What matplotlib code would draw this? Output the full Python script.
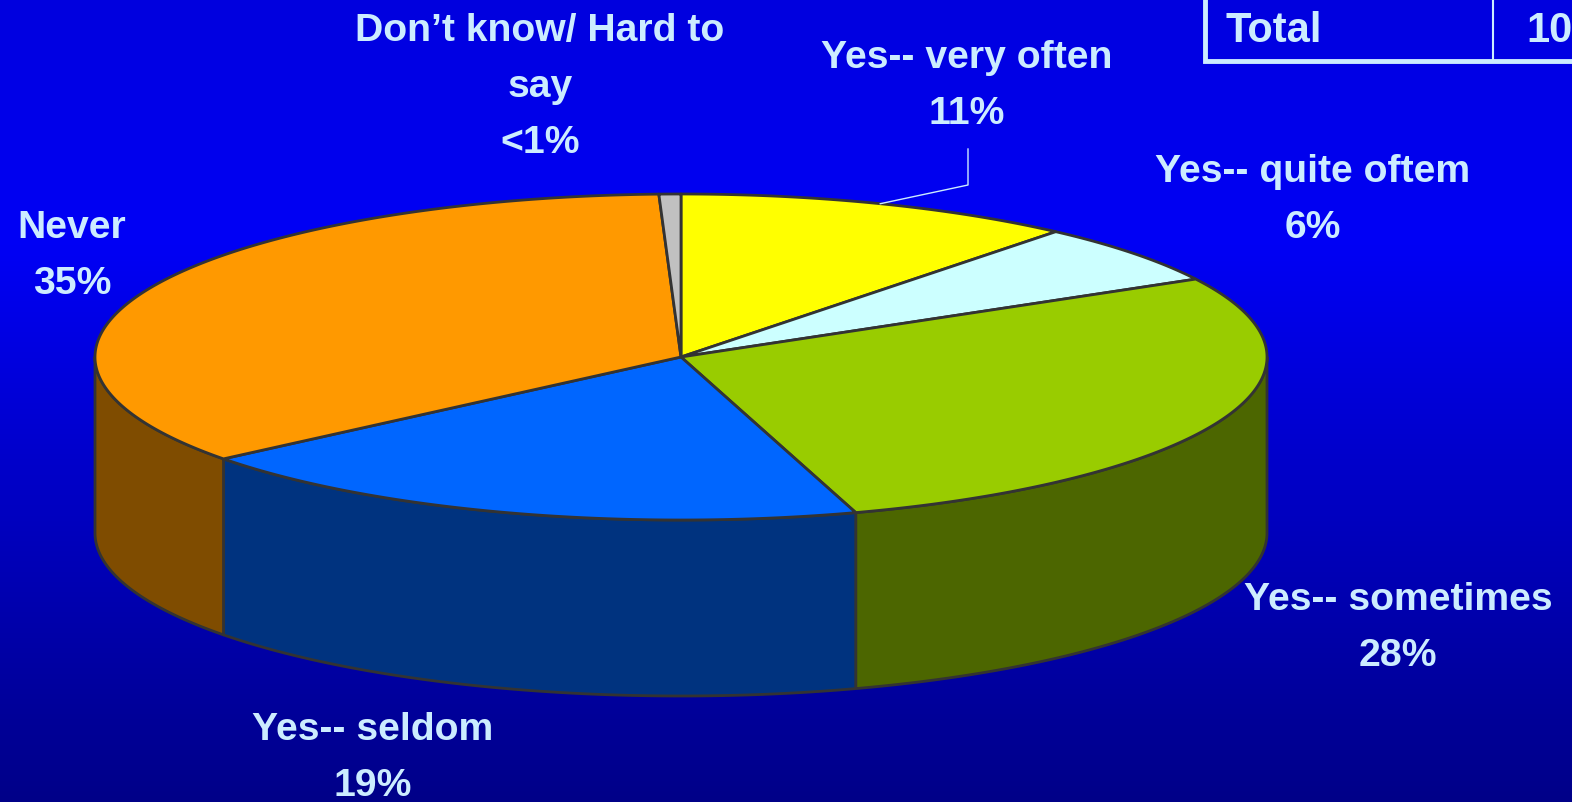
import numpy as np
import matplotlib
matplotlib.use("Agg")
import matplotlib.pyplot as plt
from matplotlib.patches import Polygon, Rectangle

# Survey answers, clockwise from 12 o'clock
categories = ["Yes-- very often", "Yes-- quite oftem", "Yes-- sometimes",
              "Yes-- seldom", "Never", "Don\u2019t know/ Hard to\nsay"]
shares = [11, 6, 28, 19, 35, 0.6]

top_colors = ["#FFFF00", "#CCFFFF", "#99CC00", "#0066FF", "#FF9900", "#C0C0C0"]
side_colors = ["#808000", "#668080", "#4C6600", "#00337F", "#7F4C00", "#606060"]

# Label anchor positions (pixel space) for each category
label_pos = [(967, 86), (1313, 200), (1398, 628), (373, 758), (72, 256), (540, 87)]

W, H = 1572, 803
fig = plt.figure(figsize=(W / 100, H / 100), dpi=100)
ax = fig.add_axes([0, 0, 1, 1])
ax.set_xlim(0, W)
ax.set_ylim(H, 0)
ax.axis("off")

# Vertical blue background gradient
ys = np.linspace(0, 1, 400)
blue = np.interp(ys, [0.0, 0.3, 1.0], [222, 246, 136]) / 255.0
grad = np.zeros((400, 1, 3))
grad[:, 0, 2] = blue
ax.imshow(grad, extent=(0, W, H, 0), aspect="auto", zorder=0, interpolation="bilinear")

# 3-D pie geometry
cx, cy, rx, ry, depth = 681, 358, 586, 163, 176
edge_kw = dict(edgecolor="#333333", linewidth=2.0, joinstyle="round")


def rim(theta_deg, dy=0.0):
    t = np.radians(theta_deg)
    return np.column_stack([cx + rx * np.sin(t), cy - ry * np.cos(t) + dy])


total = float(sum(shares))
bounds = np.concatenate([[0.0], np.cumsum(shares)]) / total * 360.0

# Visible side walls (front half of the cylinder)
for i in range(len(shares)):
    lo, hi = max(bounds[i], 90.0), min(bounds[i + 1], 270.0)
    if hi <= lo:
        continue
    t = np.linspace(lo, hi, 200)
    pts = np.vstack([rim(t), rim(t[::-1], depth)])
    ax.add_patch(Polygon(pts, closed=True, facecolor=side_colors[i], zorder=2, **edge_kw))

# Top faces
for i in range(len(shares)):
    t = np.linspace(bounds[i], bounds[i + 1], 200)
    pts = np.vstack([[cx, cy], rim(t)])
    ax.add_patch(Polygon(pts, closed=True, facecolor=top_colors[i], zorder=3, **edge_kw))

# Labels
txt_color = "#CCECFF"
font = dict(family="Liberation Sans", weight="bold", size=28.2, color=txt_color)
for cat, v, (lx, ly) in zip(categories, shares, label_pos):
    pct = f"{v:.0f}%" if v >= 1 else "<1%"
    ax.text(lx, ly, f"{cat}\n{pct}", ha="center", va="center",
            multialignment="center", linespacing=1.71, zorder=5, **font)

# Leader line for the first slice label
mid = (bounds[0] + bounds[1]) / 2
p = rim([mid])[0]
ax.plot([p[0], 968, 968], [p[1], 186, 150], color=txt_color, lw=1.0, zorder=4)

# Totals box in the corner
ax.add_patch(Rectangle((1205, -20), 420, 82, fill=False, edgecolor=txt_color,
                       linewidth=3.5, zorder=4, clip_on=True))
ax.plot([1493, 1493], [-20, 62], color=txt_color, lw=1.5, zorder=4)
ax.text(1226, 31, "Total", ha="left", va="center", zorder=5,
        family="Liberation Sans", weight="bold", size=30, color=txt_color)
ax.text(1526, 31, "100%", ha="left", va="center", zorder=5,
        family="Liberation Sans", weight="bold", size=30, color=txt_color)

fig.savefig("out.png", dpi=100)
